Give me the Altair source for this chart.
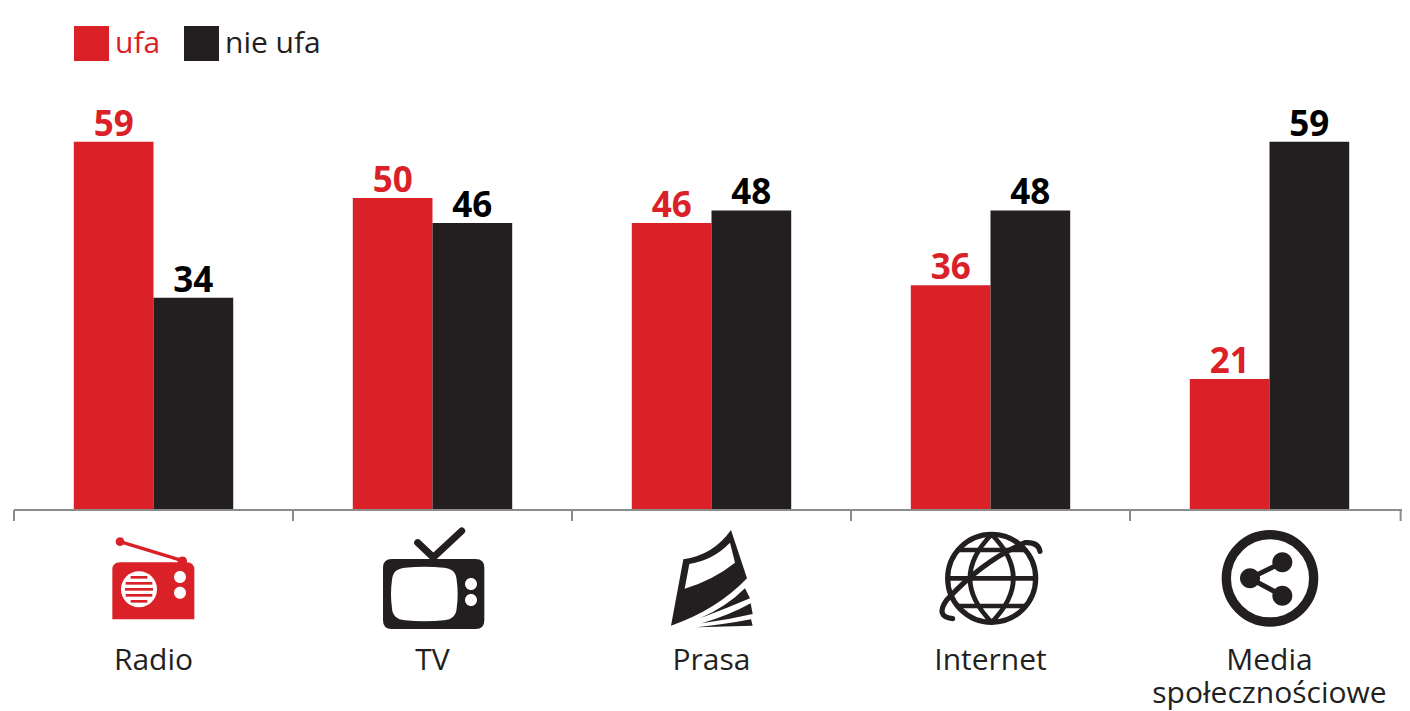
import re
import altair as alt
import pandas as pd

RED = "#da2128"
DARK = "#231f20"
GREY = "#8c8c8c"

categories = ["Radio", "TV", "Prasa", "Internet", "Media\nspołecznościowe"]
series = ["ufa", "nie ufa"]
ufa = [59, 50, 46, 36, 21]
nie_ufa = [34, 46, 48, 48, 59]

VIEW_W, VIEW_H = 1388, 703
PLOT_W, PLOT_H = 1395, 502
ICON_Y = 572

bars = pd.DataFrame(
    [{"cat": c, "series": "ufa", "value": v, "lab": RED} for c, v in zip(categories, ufa)]
    + [{"cat": c, "series": "nie ufa", "value": v, "lab": "#000000"} for c, v in zip(categories, nie_ufa)]
)
cats_df = pd.DataFrame({"cat": categories})


def conv(path, ox, oy, cx):
    """Zoom-crop drawing coordinates to px relative to the icon anchor."""
    out, i = [], 0
    for tok in re.findall(r"[A-Za-z]|-?\d+\.?\d*", path):
        if tok.isalpha():
            out.append(tok)
        else:
            v = float(tok) / 3 + (ox - cx if i % 2 == 0 else oy - 580)
            out.append(f"{v:.2f}")
            i += 1
    return " ".join(out)


def circle(x, y, r, ox, oy, cx):
    a = conv(f"M{x - r} {y}", ox, oy, cx)
    b = conv(f"{x + r} {y}", ox, oy, cx)
    c = conv(f"{x - r} {y}", ox, oy, cx)
    rr = r / 3
    return f"{a} A {rr:.2f} {rr:.2f} 0 1 0 {b} A {rr:.2f} {rr:.2f} 0 1 0 {c} Z"


icons = []


def add(cat, path, fill="transparent", stroke="transparent", sw=0):
    icons.append({"cat": cat, "path": path, "fill": fill, "stroke": stroke, "sw": sw})


# Radio
o = (90, 520, 153.5)
add("Radio", conv("M67 298 L67 150 Q67 127 90 127 L290 127 Q313 127 313 150 L313 298 Z", *o), RED)
add("Radio", conv("M90 65 L277 122", *o), "transparent", RED, 3.4)
add("Radio", circle(90, 65, 13, *o), RED)
add("Radio", circle(277, 124, 14, *o), RED)
add("Radio", circle(147, 208, 54, *o), "#ffffff")
for yy, hw in [(172, 25), (190, 40), (208, 42), (226, 40), (244, 25)]:
    add("Radio", conv(f"M{147 - hw} {yy - 4} L{147 + hw} {yy - 4} L{147 + hw} {yy + 4} L{147 - hw} {yy + 4} Z", *o), RED)
add("Radio", circle(270, 171, 18, *o), "#ffffff")
add("Radio", circle(270, 218, 18, *o), "#ffffff")

# TV
o = (90, 520, 432.5)
add("TV", conv("M983 68 L1030 112 L1115 33", *o), "transparent", DARK, 7)
add("TV", conv("M905 117 L1157 117 Q1183 117 1183 143 L1183 301 Q1183 327 1157 327 L905 327 Q879 327 879 301 L879 143 Q879 117 905 117 Z", *o), DARK)
add("TV", conv("M945 143 Q1003 138 1062 143 Q1098 146 1100 180 Q1106 222 1100 265 Q1098 298 1062 301 Q1003 306 945 301 Q908 298 906 265 Q900 222 906 180 Q908 146 945 143 Z", *o), "#ffffff")
add("TV", circle(1143, 192, 18, *o), "#ffffff")
add("TV", circle(1143, 240, 18, *o), "#ffffff")

# Prasa
o = (650, 520, 711.5)
add("Prasa", conv("M243 30 L291 175 Q200 270 63 317 L100 118 Q190 105 243 30 Z", *o), DARK)
add("Prasa", conv("M118 132 Q190 120 240 68 L255 128 Q190 180 104 206 Z", *o), "#ffffff")
add("Prasa", conv("M285 205 L300 235 Q230 265 150 295 Q230 260 285 205 Z", *o), DARK)
add("Prasa", conv("M302 250 L308 282 Q230 300 155 310 Q240 285 302 250 Z", *o), DARK)
add("Prasa", conv("M303 298 L308 317 L140 322 Q230 312 303 298 Z", *o), DARK)

# Internet
o = (650, 520, 990.5)
add("Internet", circle(1025, 175, 132, *o), "transparent", DARK, 5.2)
add("Internet", conv("M1025 43 Q895 175 1025 307 Q1155 175 1025 43 Z", *o), "transparent", DARK, 4.6)
add("Internet", conv("M924 90 L1126 90", *o), "transparent", DARK, 4.6)
add("Internet", conv("M893 175 L1157 175", *o), "transparent", DARK, 4.6)
add("Internet", conv("M924 258 L1126 258", *o), "transparent", DARK, 4.6)
add("Internet", conv("M1170 94 Q1165 65 1125 68 Q1000 120 890 240 Q855 290 908 296", *o), "transparent", DARK, 5.2)

# Media
o = (1120, 500, 1269.5)
m = categories[4]
add(m, circle(450, 235, 131, *o), "transparent", DARK, 9.3)
add(m, conv("M487 187 L390 235 L487 287", *o), "transparent", DARK, 5)
add(m, circle(390, 235, 30, *o), DARK)
add(m, circle(487, 187, 30, *o), DARK)
add(m, circle(487, 287, 30, *o), DARK)

icons_df = pd.DataFrame(icons)

x_scale = alt.Scale(domain=categories, range=[0, PLOT_W], paddingInner=0, paddingOuter=0)
x_enc = alt.X("cat:N", scale=x_scale, sort=categories, axis=None)
off_enc = alt.XOffset("series:N", scale=alt.Scale(domain=series, paddingInner=0, paddingOuter=0.75), sort=series)
y_enc = alt.Y("value:Q", scale=alt.Scale(domain=[0, PLOT_H / 6.24], range=[PLOT_H, 0], nice=False, zero=True), axis=None)

bar_layer = alt.Chart(bars).mark_bar(binSpacing=0, size=79.7).encode(
    x=x_enc,
    xOffset=off_enc,
    y=y_enc,
    color=alt.Color(
        "series:N",
        scale=alt.Scale(domain=series, range=[RED, DARK]),
        sort=series,
        legend=alt.Legend(
            title=None,
            orient="none",
            legendX=60,
            legendY=18,
            direction="horizontal",
            symbolType="square",
            symbolSize=1225,
            symbolStrokeWidth=0,
            symbolOpacity=1,
            labelFontSize=30,
            labelFont="Open Sans",
            labelOffset=6,
            columnPadding=23,
            padding=0,
            labelColor=alt.expr("datum.label == 'ufa' ? '%s' : '%s'" % (RED, DARK)),
        ),
    ),
)

val_layer = alt.Chart(bars).mark_text(
    font="Open Sans", fontWeight="bold", fontSize=35, baseline="alphabetic", dy=-6
).encode(
    x=x_enc,
    xOffset=off_enc,
    y=y_enc,
    text=alt.Text("value:Q"),
    color=alt.Color("lab:N", scale=None, legend=None),
)

domain_rule = alt.Chart(cats_df).mark_rule(color=GREY, strokeWidth=2).encode(
    x=alt.value(0), x2=alt.value(VIEW_W), y=alt.value(PLOT_H)
)
tick_left = alt.Chart(cats_df).mark_rule(color=GREY, strokeWidth=2).encode(
    x=alt.X("cat:N", scale=x_scale, sort=categories, axis=None, bandPosition=0),
    y=alt.value(PLOT_H),
    y2=alt.value(PLOT_H + 11),
)
# The page cuts the drawing at x = 1402, so the closing tick sits just inside it.
tick_right = alt.Chart(cats_df.tail(1)).mark_rule(color=GREY, strokeWidth=2).encode(
    x=alt.X("cat:N", scale=x_scale, sort=categories, axis=None, bandPosition=0.97),
    y=alt.value(PLOT_H),
    y2=alt.value(PLOT_H + 11),
)

icon_layer = alt.Chart(icons_df).mark_point(
    filled=True, opacity=1, strokeCap="round", strokeJoin="round"
).encode(
    x=x_enc,
    y=alt.value(ICON_Y),
    shape=alt.Shape("path:N", scale=None, legend=None),
    fill=alt.Fill("fill:N", scale=None, legend=None),
    stroke=alt.Stroke("stroke:N", scale=None, legend=None),
    strokeWidth=alt.StrokeWidth("sw:Q", scale=None, legend=None),
    size=alt.value(4),
)

cat_labels = alt.Chart(cats_df).mark_text(
    font="Open Sans", fontSize=30, color=DARK, baseline="alphabetic",
    lineBreak="\n", lineHeight=33, align="center",
).encode(
    x=x_enc,
    y=alt.value(662),
    text=alt.Text("cat:N"),
)

chart = (
    alt.layer(bar_layer, val_layer, domain_rule, tick_left, tick_right, icon_layer, cat_labels)
    .resolve_scale(color="independent")
    .properties(
        width=VIEW_W,
        height=VIEW_H,
        autosize=alt.AutoSizeParams(type="none"),
        padding={"left": 6, "top": 0, "right": 0, "bottom": 0},
        background="#ffffff",
    )
    .configure_view(stroke=None)
)

chart.save("out.html", embed_options={"renderer": "svg", "actions": False})
